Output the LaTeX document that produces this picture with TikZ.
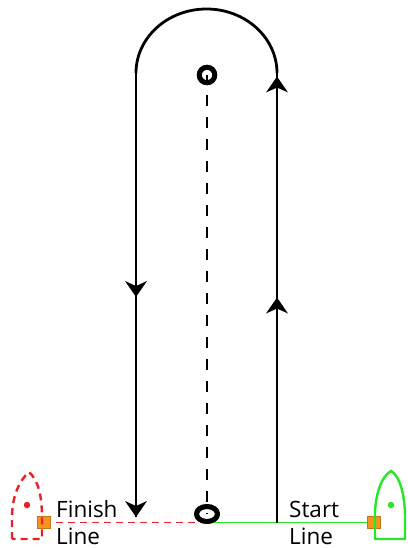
\documentclass[tikz,border=0pt]{standalone}
\usepackage{fontspec}
\setmainfont{Open Sans}
\usetikzlibrary{shapes.geometric,decorations.markings}
\definecolor{finred}{RGB}{232,32,42}
\definecolor{stgreen}{RGB}{40,230,40}
\definecolor{pinorange}{RGB}{247,148,30}
\newcommand\courseHead{\fill[black] (0pt,0pt) -- (-16pt,-11pt) -- (-11pt,0pt) -- (-16pt,11pt) -- cycle;}
\tikzset{
  course/.style={line width=2.8pt, black},
  markbuoy/.style={draw=black, line width=4.8pt, inner sep=0pt},
  pinbox/.style={draw=pinorange!80!black, line width=0.6pt, fill=pinorange, minimum size=12.5pt, inner sep=0pt},
  boatdot/.style={circle, inner sep=0pt, minimum size=6.5pt},
  lbl/.style={align=left, anchor=base west, inner sep=0pt, font=\fontsize{22.5}{27}\selectfont}
}
\begin{document}
\begin{tikzpicture}[x=1pt,y=-1pt]
\useasboundingbox (0,0) rectangle (407,548);
% named coordinates
\coordinate (Ltop) at (136,73);
\coordinate (Lbot) at (136,517);
\coordinate (Rbot) at (277,522.5);
\coordinate (Rtop) at (277,73);
\coordinate (arctop) at (206.5,9);
\coordinate (base) at (207,522.5);
% buoys
\node[markbuoy, circle, minimum size=15.5pt] (topmark) at (207,75) {};
\node[markbuoy, ellipse, minimum width=21pt, minimum height=15pt] (botmark) at (207,514) {};
\draw[black, line width=2.6pt, dash pattern=on 11pt off 11pt, dash phase=2pt] (topmark.center) -- (botmark.center);
% start/finish lines
\node[pinbox] (finpin) at (44,522.5) {};
\node[pinbox] (stpin) at (374,522.5) {};
\draw[finred, line width=1.3pt, dash pattern=on 7pt off 5pt] (finpin.center) -- (base);
\draw[stgreen, line width=1.5pt] (base) -- (stpin.center);
\node[pinbox] at (finpin) {};
\node[pinbox] at (stpin) {};
% course
\draw[course] (Rtop) .. controls (277,37.6) and (245.4,9) .. (arctop)
  .. controls (167.6,9) and (136,37.6) .. (Ltop);
\draw[course, postaction={decorate},
  decoration={markings,
    mark=at position 224pt with {\courseHead},
    mark=at position 1 with {\courseHead}}] (Ltop) -- (Lbot);
\draw[course, postaction={decorate},
  decoration={markings,
    mark=at position 225pt with {\courseHead},
    mark=at position 446pt with {\courseHead}}] (Rbot) -- (Rtop);
% redraw buoys on top
\node[markbuoy, circle, minimum size=15.5pt] at (topmark) {};
\node[markbuoy, ellipse, minimum width=21pt, minimum height=15pt] at (botmark) {};
% boats
\draw[finred, line width=2.4pt, dash pattern=on 7pt off 5pt]
  (12,539) -- (12,518) .. controls (12,495) and (20,480) .. (29,472)
  .. controls (38,480) and (42,495) .. (42,518) -- (42,539) -- cycle;
\node[boatdot, fill=finred] (findot) at (27,505) {};
\draw[stgreen, line width=2.4pt]
  (375,539) -- (375,512) .. controls (376,492) and (382,476) .. (391,471)
  .. controls (400,476) and (405,495) .. (405,518) -- (405,539) -- cycle;
\node[boatdot, fill=stgreen] (stdot) at (391,505) {};
% labels
\node[lbl] (finlbl) at (56,544) {Finish\\Line};
\node[lbl] (stlbl) at (289,544) {Start\\Line};
\end{tikzpicture}
\end{document}
